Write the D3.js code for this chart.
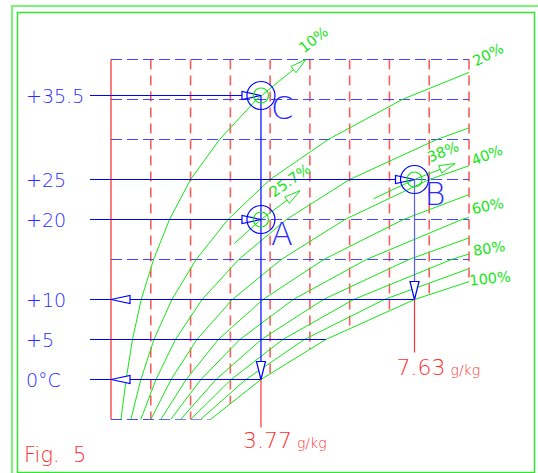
<!DOCTYPE html>
<html>
<head>
<meta charset="utf-8">
<script src="https://cdn.jsdelivr.net/npm/d3@7"></script>
<style>
body{margin:0;background:#fff}
svg{display:block}
text{font-family:"DejaVu Sans",sans-serif;font-weight:200}
</style>
</head>
<body>
<div id="graph"></div>
<script>
// temperature steps (deg C) where the humidity curves have their vertices
var tempSteps = [-5, 0, 5, 10, 15, 20, 25, 30, 35, 40];

// moisture content (g/kg) of each relative humidity curve at tempSteps
var rh10  = [0.25, 0.38, 0.54, 0.76, 1.07, 1.47, 2.0, 2.73, 3.66, 4.9];
var rh20  = [0.5, 0.75, 1.08, 1.53, 2.14, 2.94, 4.0, 5.46, 7.32, 9.8];
var rh30  = [0.75, 1.13, 1.62, 2.29, 3.21, 4.41, 6.0, 8.19, 10.98];
var rh40  = [1.0, 1.51, 2.16, 3.05, 4.28, 5.88, 8.0, 10.92];
var rh50  = [1.25, 1.89, 2.7, 3.82, 5.35, 7.35, 10.0];
var rh60  = [1.5, 2.26, 3.24, 4.58, 6.42, 8.82, 12.0];
var rh70  = [1.75, 2.64, 3.78, 5.34, 7.49, 10.29];
var rh80  = [2.0, 3.02, 4.32, 6.1, 8.56, 11.76];
var rh90  = [2.25, 3.39, 4.86, 6.87, 9.63];
var rh100 = [2.5, 3.77, 5.4, 7.63, 10.7];
var rhCurves = [rh10, rh20, rh30, rh40, rh50, rh60, rh70, rh80, rh90, rh100];

var rhLabels = ["10%", "20%", "40%", "60%", "80%", "100%"];
var rhLabelCurve = [0, 1, 3, 5, 7, 9];

// grid
var gridW = [0, 1, 2, 3, 4, 5, 6, 7, 8, 9];
var gridT = [-5, 0, 5, 10, 15, 20, 25, 30, 35, 40];

// temperature leaders on the left
var tempValues = [35.5, 25, 20, 10, 5, 0];
var tempLabels = ["+35.5", "+25", "+20", "+10", "+5", "0\u00B0C"];
var tempLineEnd = [3.77, 7.63, 3.77, 7.63, 5.4, 3.77];
var tempArrow = ["to", "to", "to", "back", "none", "back"];

// state points
var pointNames = ["A", "B", "C"];
var pointW = [3.77, 7.63, 3.77];
var pointT = [20, 25, 35.5];

// short humidity segments through A and B
var segA = [[3.1, 17], [3.77, 20], [4.75, 23.6]];
var segB = [[6.6, 22.6], [7.63, 25], [8.65, 27]];
var segLabels = ["25.7%", "38%"];

// vertical drops to dew point
var dropW = [3.77, 7.63];
var dropFromT = [35.5, 25];
var dropToT = [0, 10];
var dropLabels = ["3.77", "7.63"];

var width = 538, height = 473;
var blue = "#0000ff", textBlue = "#2a2aff", red = "#ff3030", gridRed = "#ff5c5c", green = "#14e614";

var x = d3.scaleLinear().domain([0, 9]).range([111, 469]);
var y = d3.scaleLinear().domain([-5, 40]).range([419.5, 59.5]);

var svg = d3.select('#graph').append('svg')
  .attr('width', width).attr('height', height);

// frame
svg.append('rect').attr('x', 12).attr('y', 6).attr('width', 540).attr('height', 480)
  .attr('fill', 'none').attr('stroke', '#74f774').attr('stroke-width', 2);
svg.append('rect').attr('x', 17.5).attr('y', 12.5).attr('width', 517).attr('height', 460)
  .attr('fill', 'none').attr('stroke', '#2ee82e').attr('stroke-width', 1.5);

var arrowPath = function(tx, ty, ang, len, hw){
  var bx = tx - len*Math.cos(ang), by = ty - len*Math.sin(ang);
  var px = -Math.sin(ang)*hw, py = Math.cos(ang)*hw;
  return 'M'+tx+','+ty+'L'+(bx+px)+','+(by+py)+'L'+(bx-px)+','+(by-py)+'Z';
}

var curvePts = function(arr){
  return arr.map(function(w, i){ return [w, tempSteps[i]]; });
}

var line = d3.line().x(function(d){return x(d[0])}).y(function(d){return y(d[1])});

// clip: inside the frame and above the saturation line
var defs = svg.append('defs');
var satPts = curvePts(rh100).slice().reverse();
var clipPts = [[-0.06, 40.3], [9.06, 40.3]].concat(satPts).concat([[-0.06, -5.1]]);
defs.append('clipPath').attr('id', 'sat').append('path')
  .attr('d', line(clipPts) + 'Z');
defs.append('clipPath').attr('id', 'box').append('rect')
  .attr('x', x(0) - 1).attr('y', y(40) - 1)
  .attr('width', x(9) - x(0) + 1).attr('height', y(-5) - y(40) + 2);

var grid = svg.append('g').attr('clip-path', 'url(#sat)');
grid.selectAll('line.v').data(gridW).enter().append('line')
  .attr('class', 'v')
  .attr('x1', function(d){return x(d)}).attr('x2', function(d){return x(d)})
  .attr('y1', y(40)).attr('y2', y(-5))
  .attr('stroke', gridRed).attr('stroke-width', 1.6)
  .attr('stroke-dasharray', function(d){return d === 0 ? null : '10,6'});
grid.selectAll('line.h').data(gridT).enter().append('line')
  .attr('class', 'h')
  .attr('x1', x(0)).attr('x2', x(9))
  .attr('y1', function(d){return y(d)}).attr('y2', function(d){return y(d)})
  .attr('stroke', '#4444ff').attr('stroke-width', 1.2)
  .attr('stroke-dasharray', '11,5');

// relative humidity curves
var curves = svg.append('g').attr('clip-path', 'url(#box)');
curves.selectAll('path').data(rhCurves).enter().append('path')
  .attr('d', function(d){return line(curvePts(d))})
  .attr('fill', 'none').attr('stroke', green).attr('stroke-width', 1);

// 10% arrow at top
var r10 = curvePts(rh10);
var p1 = r10[r10.length-2], p2 = r10[r10.length-1];
var a10 = Math.atan2(y(p2[1]) - y(p1[1]), x(p2[0]) - x(p1[0]));
svg.append('path').attr('d', arrowPath(x(p2[0]), y(p2[1]), a10, 16, 4))
  .attr('fill', '#fff').attr('stroke', green);

// curve end labels
var labelStyle = [
  {dx: -2, dy: -6, rot: -38},
  {dx: 7, dy: -6, rot: -27},
  {dx: 5, dy: 0, rot: -22},
  {dx: 4, dy: -3, rot: -12},
  {dx: 5, dy: 2, rot: -9},
  {dx: 1, dy: 4, rot: -6}
];
var curveEnd = function(arr){
  var pts = curvePts(arr);
  var last = pts[pts.length-1];
  if(last[0] <= 9) return last;
  for(var i = 1; i < pts.length; i++){
    if(pts[i][0] > 9){
      var a = pts[i-1], b = pts[i], f = (9 - a[0])/(b[0] - a[0]);
      return [9, a[1] + f*(b[1] - a[1])];
    }
  }
}
rhLabels.forEach(function(lab, i){
  var e = curveEnd(rhCurves[rhLabelCurve[i]]);
  var s = labelStyle[i];
  var tx = x(e[0]) + s.dx, ty = y(e[1]) + s.dy;
  svg.append('text').attr('x', tx).attr('y', ty)
    .attr('transform', 'rotate(' + s.rot + ',' + tx + ',' + ty + ')')
    .style('font-weight', 400)
    .attr('fill', green).attr('font-size', 14.5).text(lab);
});

// humidity segments through A and B
var segStyle = [{dx: -26, dy: 7, rot: -35}, {dx: -25, dy: -1, rot: -22}];
[segA, segB].forEach(function(seg, i){
  svg.append('path').attr('d', line(seg))
    .attr('fill', 'none').attr('stroke', green);
  var a = seg[seg.length-2], b = seg[seg.length-1];
  var ang = Math.atan2(y(b[1]) - y(a[1]), x(b[0]) - x(a[0]));
  svg.append('path').attr('d', arrowPath(x(b[0]), y(b[1]), ang, 16, 4))
    .attr('fill', '#fff').attr('stroke', green);
  var s = segStyle[i];
  var tx = x(b[0]) + s.dx, ty = y(b[1]) + s.dy;
  svg.append('text').attr('x', tx).attr('y', ty)
    .attr('transform', 'rotate(' + s.rot + ',' + tx + ',' + ty + ')')
    .style('font-weight', 400)
    .attr('fill', green).attr('font-size', 14.5).text(segLabels[i]);
});

// temperature leaders
tempValues.forEach(function(t, i){
  var yy = y(t);
  svg.append('line').attr('x1', 90).attr('x2', x(tempLineEnd[i]))
    .attr('y1', yy).attr('y2', yy).attr('stroke', blue).attr('stroke-width', 1.2);
  if(tempArrow[i] === 'to'){
    svg.append('path').attr('d', arrowPath(x(tempLineEnd[i]), yy, 0, 19, 4))
      .attr('fill', '#fff').attr('stroke', blue).attr('stroke-width', 1.2);
  } else if(tempArrow[i] === 'back'){
    svg.append('path').attr('d', arrowPath(x(0), yy, Math.PI, 19, 4))
      .attr('fill', '#fff').attr('stroke', blue).attr('stroke-width', 1.2);
  }
  svg.append('text').attr('x', 26).attr('y', yy + 7)
    .attr('fill', textBlue).attr('font-size', 19).text(tempLabels[i]);
});

// vertical drops
dropW.forEach(function(w, i){
  var xx = x(w);
  svg.append('line').attr('x1', xx).attr('x2', xx)
    .attr('y1', y(dropFromT[i])).attr('y2', y(dropToT[i]))
    .attr('stroke', i === 0 ? blue : '#5a5aff').attr('stroke-width', 1.2);
  svg.append('path').attr('d', arrowPath(xx, y(dropToT[i]), Math.PI/2, 18, 4.5))
    .attr('fill', '#fff').attr('stroke', blue).attr('stroke-width', 1.2);
  svg.append('line').attr('x1', xx).attr('x2', xx)
    .attr('y1', y(dropToT[i])).attr('y2', y(dropToT[i]) + (i === 0 ? 48 : 53))
    .attr('stroke', red).attr('stroke-width', 1.2);
  var t = svg.append('text').attr('x', xx - 18).attr('y', y(dropToT[i]) + (i === 0 ? 68 : 75))
    .attr('fill', red);
  t.append('tspan').attr('font-size', 22).text(dropLabels[i]);
  t.append('tspan').attr('font-size', 14).attr('dx', 5).text('g/kg');
});

// state points
pointNames.forEach(function(n, i){
  var cx = x(pointW[i]), cy = y(pointT[i]);
  svg.append('circle').attr('cx', cx).attr('cy', cy).attr('r', 14)
    .attr('fill', 'none').attr('stroke', blue).attr('stroke-width', 1.2);
  svg.append('circle').attr('cx', cx).attr('cy', cy).attr('r', 7.5)
    .attr('fill', 'none').attr('stroke', green).attr('stroke-width', 1.2);
  svg.append('text').attr('x', cx + 10).attr('y', cy + (n === 'C' ? 23 : 25))
    .attr('fill', textBlue).attr('font-size', 32).text(n);
});

svg.append('text').attr('x', 24).attr('y', 462)
  .style('white-space', 'pre')
  .attr('fill', red).attr('font-size', 21).text('Fig.  5');
</script>
</body>
</html>
